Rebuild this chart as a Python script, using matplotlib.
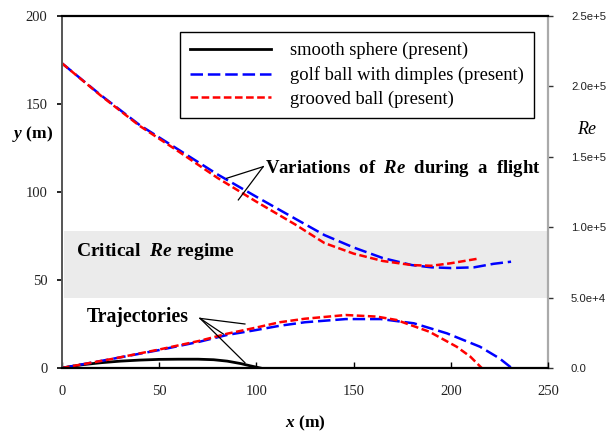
import matplotlib
matplotlib.use("Agg")
import matplotlib.pyplot as plt

plt.rcParams['font.family'] = ['Liberation Serif', 'DejaVu Serif']
plt.rcParams['mathtext.fontset'] = 'custom'
plt.rcParams['mathtext.it'] = 'Liberation Serif:italic:bold'
plt.rcParams['mathtext.rm'] = 'Liberation Serif:bold'
plt.rcParams['lines.scale_dashes'] = False

# ---- data ----
# trajectories (x in m, y in m)
smooth_x = [0, 10, 20, 30, 40, 50, 60, 70, 78, 85, 92, 97, 102]
smooth_y = [0, 1.8, 3.0, 3.9, 4.5, 4.9, 5.0, 5.0, 4.7, 3.9, 2.5, 1.2, 0]
golf_x = [0, 10, 25, 50, 71, 85, 100, 112, 125, 146, 164, 181, 198, 215, 225, 231.3]
golf_y = [0, 2, 5, 10.2, 15, 18.8, 21.6, 24, 26, 27.8, 27.8, 25.4, 19.7, 12.1, 5.5, 0]
groove_x = [0, 10, 25, 50, 71, 85, 100, 112, 125, 146, 162, 172, 189, 203, 210, 215.9]
groove_y = [0, 2, 5, 10.5, 15.5, 19.5, 23, 26, 28, 30.1, 29.2, 27.3, 20.6, 12.1, 6.5, 0]

# Reynolds number during flight
golf_re_x = [0, 20, 40, 60, 80, 100, 120, 135, 150, 165, 180, 190, 200, 212, 222, 231]
golf_re = [216400, 193750, 172500, 155000, 137500, 121600, 106000, 94400, 85600,
           78100, 73100, 71500, 71000, 71500, 74000, 75500]
groove_re_x = [0, 20, 40, 60, 80, 100, 120, 135, 150, 165, 180, 190, 200, 208, 215]
groove_re = [216400, 193400, 171900, 153750, 135000, 118100, 101900, 88750, 81250,
             76000, 73100, 72600, 74400, 76250, 77900]

critical_re = [50000, 97500]

x_ticks = [0, 50, 100, 150, 200, 250]
y_ticks = [0, 50, 100, 150, 200]
re_ticks = [0, 50000, 100000, 150000, 200000, 250000]
re_ticklabels = ['0.0', '5.0e+4', '1.0e+5', '1.5e+5', '2.0e+5', '2.5e+5']
labels = ['smooth sphere (present)', 'golf ball with dimples (present)', 'grooved ball (present)']

# ---- figure ----
fig = plt.figure(figsize=(6.07, 4.37), dpi=100)
ax = fig.add_axes([62/607, 1-368/437, 486/607, 352/437])
ax2 = ax.twinx()
# draw left-axis content above the twin (so annotations sit over the band)
ax.set_zorder(ax2.get_zorder() + 1)
ax.patch.set_visible(False)

ax.set_xlim(0, 250)
ax.set_ylim(0, 200)
ax2.set_ylim(0, 250000)

ax2.axhspan(critical_re[0], critical_re[1], xmin=0.004, xmax=0.998,
            color='#ebebeb', zorder=0, lw=0)

blue_dash = (9, 3.5)
red_dash = (5.5, 2.5)

l1, = ax.plot(smooth_x, smooth_y, color='black', lw=2.0)
l2, = ax.plot(golf_x, golf_y, color='#0000ff', lw=1.8, dashes=blue_dash)
l3, = ax.plot(groove_x, groove_y, color='#ff0000', lw=1.8, dashes=red_dash)
ax2.plot(golf_re_x, golf_re, color='#0000ff', lw=1.8, dashes=blue_dash)
ax2.plot(groove_re_x, groove_re, color='#ff0000', lw=1.8, dashes=red_dash)

# spines
for s in ['top', 'right', 'left', 'bottom']:
    ax2.spines[s].set_visible(s == 'right')
ax.spines['right'].set_visible(False)
ax.spines['top'].set_color('black'); ax.spines['top'].set_linewidth(1.6)
ax.spines['bottom'].set_color('black'); ax.spines['bottom'].set_linewidth(1.6)
ax.spines['left'].set_color('#555555'); ax.spines['left'].set_linewidth(1.4)
ax2.spines['right'].set_color('#aaaaaa'); ax2.spines['right'].set_linewidth(1.6)

ax.set_xticks(x_ticks)
ax.set_yticks(y_ticks)
ax.tick_params(axis='x', direction='in', length=4, width=1, pad=12,
               labelsize=10.5, labelcolor='#222222')
ax.tick_params(axis='y', direction='out', length=3.5, width=1.2, pad=7,
               labelsize=10.5, labelcolor='#222222')
ax2.set_yticks(re_ticks)
ax2.set_yticklabels(re_ticklabels, family='Liberation Sans')
ax2.tick_params(axis='y', direction='out', length=3.5, width=1, pad=13,
                labelsize=8.2, labelcolor='#222222', color='#333333')

ax.set_xlabel(r'$x$ (m)', fontsize=12.5, fontweight='bold', va='center')
ax.xaxis.set_label_coords(0.5, -(423-368)/352)
ax.set_ylabel(r'$y$ (m)', fontsize=12.5, fontweight='bold', rotation=0,
              ha='center', va='center')
ax.yaxis.set_label_coords((33-62)/486, (368-134)/352)
ax2.set_ylabel('Re', fontsize=13, fontstyle='italic', rotation=0,
               ha='center', va='center')
ax2.yaxis.set_label_coords((587-62)/486, (368-130)/352)

# annotations
ax.text(104.4, 113.6, r'Variations  of  $Re$  during  a  flight', fontsize=13.5,
        fontweight='bold', ha='left', va='center')
for (xe, ye) in [(84.7, 107.8), (90.7, 95.5)]:
    ax.plot([103.5, xe], [114.4, ye], color='black', lw=0.9)
ax.text(7.2, 66.1, r'Critical  $Re$ regime', fontsize=14, fontweight='bold',
        ha='left', va='center')
ax.text(12.7, 29.1, 'Trajectories', fontsize=14.3, fontweight='bold',
        ha='left', va='center')
for (xe, ye) in [(94.1, 25), (83, 19.3), (94.1, 3)]:
    ax.plot([71, xe], [28.2, ye], color='black', lw=0.9)

leg = ax.legend([l1, l2, l3], labels, loc='upper left',
                bbox_to_anchor=(180/607, 1-32/437), bbox_transform=fig.transFigure,
                fontsize=13.3, handlelength=4.4, handletextpad=1.0,
                labelspacing=0.36, borderpad=0.55, borderaxespad=0,
                fancybox=False, framealpha=1, edgecolor='black')
leg.get_frame().set_linewidth(1.0)

fig.savefig('out.png', dpi=100)
